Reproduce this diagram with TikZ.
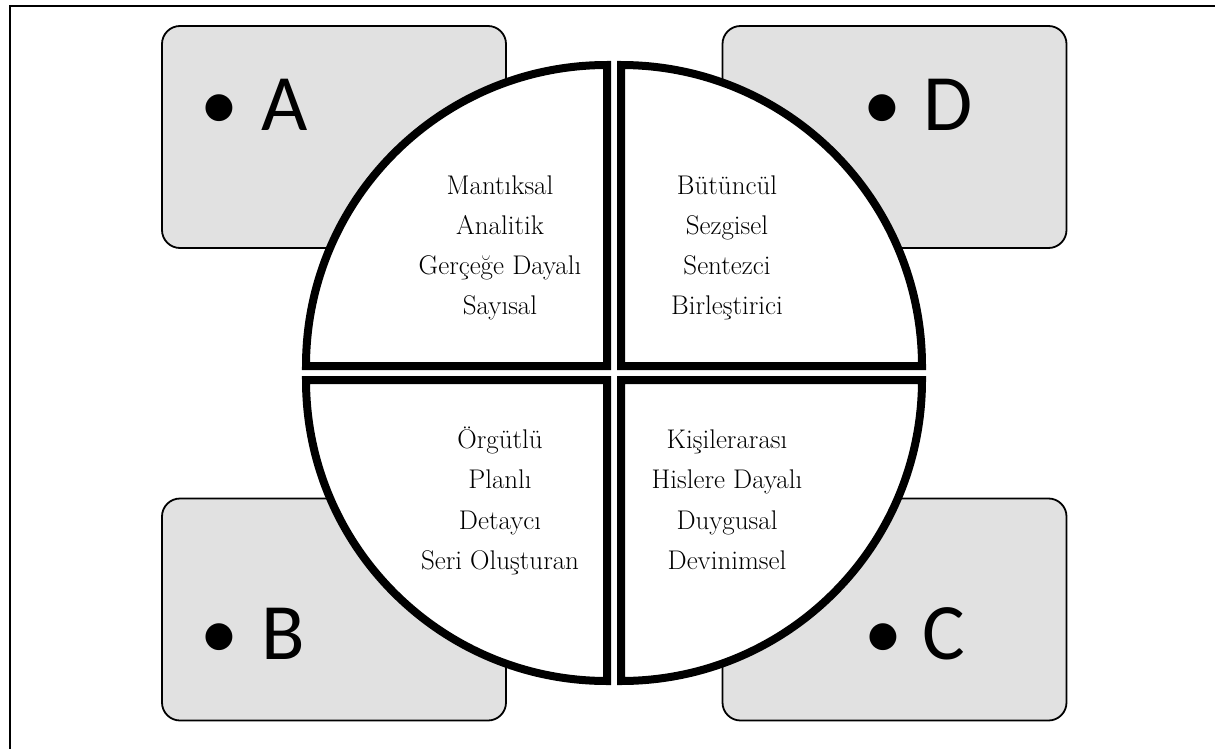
\documentclass[tikz,border=0pt]{standalone}
\usepackage{fontspec}
\usetikzlibrary{positioning}
\newfontfamily\carlito{Carlito}
\definecolor{boxfill}{RGB}{225,225,225}
\tikzset{
  letterbox/.style={rectangle,draw,fill=boxfill,line width=1.8pt,rounded corners=18pt,minimum width=344pt,minimum height=222pt,inner sep=0pt},
  quad/.style={draw,fill=white,line width=8pt,line join=miter},
  qtext/.style={anchor=base,inner sep=0pt,font=\fontsize{27}{32}\selectfont},
  bulletmark/.style={anchor=base,inner sep=0pt,font=\carlito\fontsize{76}{90}\selectfont},
  lettermark/.style={anchor=base west,inner sep=0pt,font=\carlito\fontsize{80}{90}\selectfont}
}

\begin{document}
\begin{tikzpicture}[x=1pt,y=-1pt]
  \useasboundingbox (0,0) rectangle (1215,749);
  \draw[line width=2pt] (10,749) -- (10,6) -- (1215,6);
  % letter boxes behind the circle
  \node[letterbox] (boxA) at (334,137) {};
  \node[letterbox] (boxD) at (894.5,137) {};
  \node[letterbox] (boxB) at (334,609.5) {};
  \node[letterbox] (boxC) at (894.5,609.5) {};
  \node[bulletmark] (bA) at (219,130) {•};
  \node[lettermark] (lA) at (261,131) {A};
  \node[bulletmark] (bD) at (882,130) {•};
  \node[lettermark] (lD) at (923,131) {D};
  \node[bulletmark] (bB) at (219,658) {•};
  \node[lettermark] (lB) at (261,659) {B};
  \node[bulletmark] (bC) at (883,658) {•};
  \node[lettermark] (lC) at (922,659) {C};
  % four quarters
  \draw[quad] (607,366) -- ++(-301,0) arc[start angle=180,end angle=270,radius=301] -- cycle;
  \draw[quad] (621,366) -- ++(0,-301) arc[start angle=270,end angle=360,radius=301] -- cycle;
  \draw[quad] (621,380) -- ++(301,0) arc[start angle=0,end angle=90,radius=301] -- cycle;
  \draw[quad] (607,380) -- ++(0,301) arc[start angle=90,end angle=180,radius=301] -- cycle;
  % quarter texts
  \foreach \t [count=\i from 0] in {Mantıksal,Analitik,Gerçeğe Dayalı,Sayısal}
    \node[qtext] (tA\i) at (500,194+40*\i) {\t};
  \foreach \t [count=\i from 0] in {Bütüncül,Sezgisel,Sentezci,Birleştirici}
    \node[qtext] (tD\i) at (727,194+40*\i) {\t};
  \foreach \t [count=\i from 0] in {Örgütlü,Planlı,Detaycı,Seri Oluşturan}
    \node[qtext] (tB\i) at (500,448+40.5*\i) {\t};
  \foreach \t [count=\i from 0] in {Kişilerarası,Hislere Dayalı,Duygusal,Devinimsel}
    \node[qtext] (tC\i) at (727,448+40.5*\i) {\t};
\end{tikzpicture}
\end{document}
